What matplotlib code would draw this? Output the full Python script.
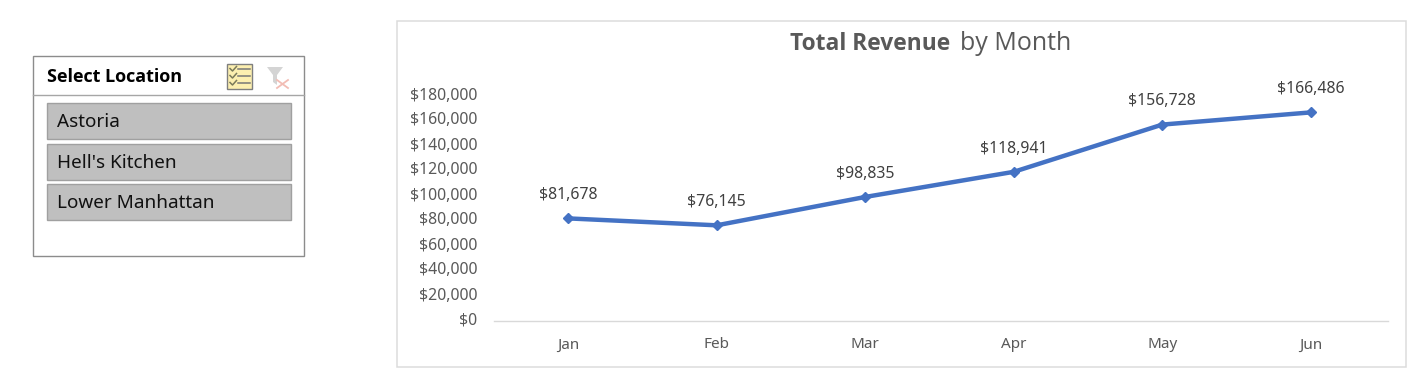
import matplotlib
matplotlib.use('Agg')
import matplotlib.pyplot as plt
from matplotlib.patches import Rectangle, Polygon
from matplotlib.transforms import ScaledTranslation

months = ['Jan', 'Feb', 'Mar', 'Apr', 'May', 'Jun']
revenue = [81678, 76145, 98835, 118941, 156728, 166486]
y_ticks = [0, 20000, 40000, 60000, 80000, 100000, 120000, 140000, 160000, 180000]
locations = ["Astoria", "Hell's Kitchen", "Lower Manhattan"]

plt.rcParams['font.family'] = ['Noto Sans', 'DejaVu Sans']
W, H = 1423, 375
fig = plt.figure(figsize=(W / 100, H / 100), dpi=100)

# overlay in pixel coordinates for the slicer and chart frame
bg = fig.add_axes([0, 0, 1, 1])
bg.set_xlim(0, W)
bg.set_ylim(H, 0)
bg.axis('off')

bg.add_patch(Rectangle((397, 21), 1009, 346, fc='white', ec='#dcdcdc', lw=1.1))

# slicer
bg.add_patch(Rectangle((33, 56), 271, 200, fc='white', ec='#8c8c8c', lw=1))
bg.plot([33, 304], [95, 95], color='#a6a6a6', lw=1)
bg.text(47, 77, 'Select Location', fontsize=13, fontweight='bold', color='black',
        va='center', family=['Open Sans', 'DejaVu Sans'])

button_tops = [103, 144, 184]
for top, name in zip(button_tops, locations):
    bg.add_patch(Rectangle((47, top), 244, 36, fc='#bfbfbf', ec='#a0a0a0', lw=1))
    bg.text(57, top + 19, name, fontsize=13.6, color='#111111', va='center')

# multi-select icon
bg.add_patch(Rectangle((227, 64), 25, 25, fc='#fcefb0', ec='#7f7f7f', lw=1))
for y in [69.5, 76.5, 83.5]:
    bg.plot([230, 232.5, 236.5], [y - 1, y + 1.5, y - 3], color='#7a7a5a', lw=1.1)
    bg.plot([238, 250], [y - 1, y - 1], color='#777777', lw=1.1)

# clear filter icon
bg.add_patch(Polygon([(267, 67), (283, 67), (277, 75), (277, 85), (273, 82), (273, 75)],
                     fc='#d4d4d4', ec='none'))
bg.plot([277, 288], [80, 88], color='#f2bcb4', lw=1.3)
bg.plot([277, 288], [88, 80], color='#f2bcb4', lw=1.3)

# line chart
x0, x1, y_top, y_bot = 494, 1388, 95.5, 320.5
ax = fig.add_axes([x0 / W, 1 - y_bot / H, (x1 - x0) / W, (y_bot - y_top) / H])
ax.patch.set_alpha(0)
pos = list(range(len(months)))
ax.plot(pos, revenue, color='#4472c4', lw=3.2, marker='D', ms=5.5, solid_capstyle='round')
ax.set_xlim(-0.5, 5.52)
ax.set_ylim(0, 180000)
ax.set_xticks(pos)
ax.set_xticklabels(months)
ax.set_yticks(y_ticks)
ax.set_yticklabels(['${:,}'.format(v) for v in y_ticks])
ax.tick_params(axis='x', length=0, pad=12.2, labelsize=11, labelcolor='#595959')
ax.tick_params(axis='y', length=0, pad=12, labelsize=11.4, labelcolor='#595959')
# the labels sit about 2px above their gridline position in the reference
lift = ScaledTranslation(0, 2 / 100, fig.dpi_scale_trans)
for lab in ax.get_yticklabels():
    lab.set_verticalalignment('center_baseline')
    lab.set_transform(lab.get_transform() + lift)
for side in ['top', 'right', 'left']:
    ax.spines[side].set_visible(False)
ax.spines['bottom'].set_color('#d9d9d9')
ax.spines['bottom'].set_linewidth(1)

for p, v in zip(pos, revenue):
    ax.annotate('${:,}'.format(v), (p, v), xytext=(0, 11), textcoords='offset points',
                ha='center', va='bottom', fontsize=11.4, color='#404040')

# title with mixed weights
bg.text(790, 44, 'Total Revenue', fontsize=16.4, fontweight='bold', color='#595959',
        va='center', family=['Open Sans', 'DejaVu Sans'])
bg.text(960, 44, 'by Month', fontsize=18, color='#595959', va='center',
        family=['Open Sans', 'DejaVu Sans'])

fig.savefig('out.png', dpi=100, facecolor='white')
